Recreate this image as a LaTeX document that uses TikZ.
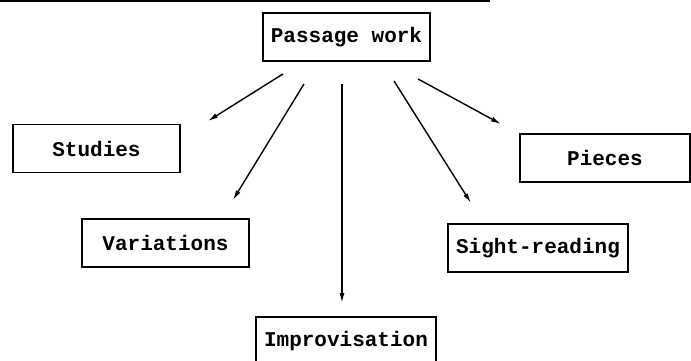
\documentclass[tikz,border=0pt]{standalone}
\usepackage{fontspec}
\setmonofont{Liberation Mono}
\usetikzlibrary{arrows.meta}

\begin{document}
\begin{tikzpicture}[node distance=96pt, >={Latex[length=10pt,width=5pt]}, every node/.style={draw, line width=1.9pt, minimum width=167pt, minimum height=48pt, inner xsep=8pt, font=\ttfamily\bfseries\fontsize{21}{25}\selectfont}]
\useasboundingbox (0,0) rectangle (691pt,-360pt);
\fill (0,0) rectangle (490pt,-2pt);
\node at (346.5pt,-37pt) (pw) {Passage work};
\node[below of=pw, xshift=-250pt, yshift=-15.5pt] (studies) {Studies};
\node[below of=pw, xshift=258.5pt, yshift=-25pt, minimum width=170pt] (pieces) {Pieces};
\node[below of=studies, xshift=69pt, yshift=1.5pt] (var) {Variations};
\node[below of=pieces, xshift=-67pt, yshift=6pt] (sight) {Sight-reading};
\node[below of=pw, xshift=-0.5pt, yshift=-208pt] (impro) {Improvisation};
\draw[->, line width=1.4pt] ([xshift=-63.5pt,yshift=-12pt]pw.south) -- ([xshift=27pt,yshift=2.5pt]studies.north east);
\draw[->, line width=1.4pt] ([xshift=-42.5pt,yshift=-22pt]pw.south) -- ([xshift=-17pt,yshift=18pt]var.north east);
\draw[->, line width=1.4pt] ([xshift=-4.5pt,yshift=-22pt]pw.south) -- ([xshift=-4pt,yshift=13pt]impro.north);
\draw[->, line width=1.4pt] ([xshift=47.5pt,yshift=-19pt]pw.south) -- ([xshift=-67pt,yshift=20pt]sight.north);
\draw[->, line width=1.4pt] ([xshift=71.5pt,yshift=-17pt]pw.south) -- ([xshift=-18pt,yshift=9pt]pieces.north west);
\end{tikzpicture}
\end{document}
